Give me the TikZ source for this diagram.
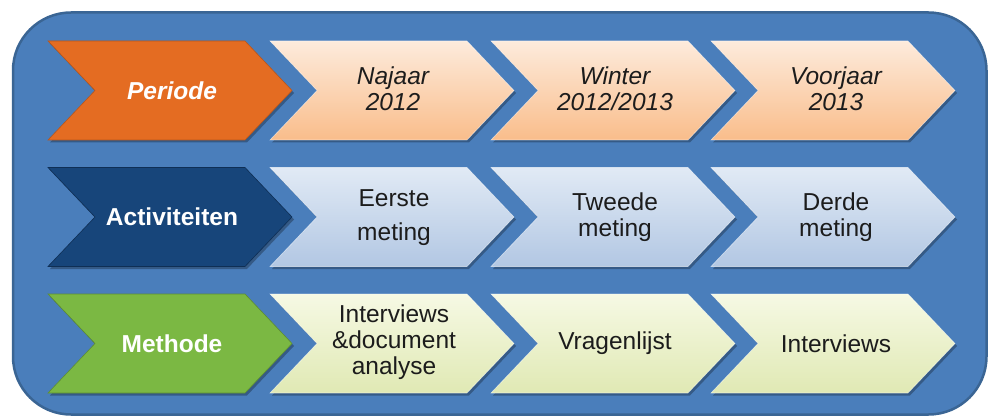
\documentclass[tikz,border=0pt]{standalone}
\usepackage{fontspec}
\setmainfont{Liberation Sans}
\definecolor{boxfill}{HTML}{4A7EBB}
\definecolor{boxborder}{HTML}{3A6594}
\definecolor{orangec}{HTML}{E46C22}
\definecolor{orangeline}{HTML}{B8561C}
\definecolor{darkbluec}{HTML}{17457A}
\definecolor{darkblueline}{HTML}{0F2F55}
\definecolor{greenc}{HTML}{7BB843}
\definecolor{greenline}{HTML}{5E8E33}
\definecolor{peachtop}{HTML}{FDEBDC}
\definecolor{peachbot}{HTML}{F9BD8B}
\definecolor{bluetop}{HTML}{E1EAF5}
\definecolor{bluebot}{HTML}{B2C7E3}
\definecolor{greentop}{HTML}{F6F9E4}
\definecolor{greenbot}{HTML}{E0E9B4}
\definecolor{txt}{HTML}{1C1C1C}
\newcommand\mkchev[3]{%
  \fill[black, opacity=0.28, shift={(2,2.5)}] (#1,#2) -- (#1+197,#2) -- (#1+244,#2+49.5) -- (#1+197,#2+99) -- (#1,#2+99) -- (#1+47,#2+49.5) -- cycle;
  \path[#3] (#1,#2) -- (#1+197,#2) -- (#1+244,#2+49.5) -- (#1+197,#2+99) -- (#1,#2+99) -- (#1+47,#2+49.5) -- cycle;
}
\begin{document}
\begin{tikzpicture}[x=1pt,y=-1pt,
  outerbox/.style={line width=2.5pt, draw=boxborder, fill=boxfill, rounded corners=58pt},
  headperiode/.style={fill=orangec, draw=orangeline, line width=0.6pt},
  headact/.style={fill=darkbluec, draw=darkblueline, line width=0.6pt},
  headmeth/.style={fill=greenc, draw=greenline, line width=0.6pt},
  peach/.style={top color=peachtop, bottom color=peachbot, draw=white, draw opacity=0.5, line width=0.6pt},
  lblue/.style={top color=bluetop, bottom color=bluebot, draw=white, draw opacity=0.5, line width=0.6pt},
  lgreen/.style={top color=greentop, bottom color=greenbot, draw=white, draw opacity=0.5, line width=0.6pt},
  headtxt/.style={text=white, font=\fontsize{24.5}{26}\selectfont\bfseries, align=center, inner sep=0pt},
  celltxt/.style={text=txt, font=\fontsize{24.5}{26}\selectfont, align=center, inner sep=0pt},
  pertxt/.style={celltxt, font=\fontsize{24.5}{26}\selectfont\itshape}
]
\useasboundingbox (0,0) rectangle (989,417);
\path[outerbox] (13,12.5) rectangle (986.5,414.5);
% row 1
\mkchev{48}{41}{headperiode}
\mkchev{270}{41}{peach}
\mkchev{491}{41}{peach}
\mkchev{711}{41}{peach}
% row 2
\mkchev{48}{167.5}{headact}
\mkchev{270}{167.5}{lblue}
\mkchev{491}{167.5}{lblue}
\mkchev{711}{167.5}{lblue}
% row 3
\mkchev{48}{294}{headmeth}
\mkchev{270}{294}{lgreen}
\mkchev{491}{294}{lgreen}
\mkchev{711}{294}{lgreen}
% texts
\node[headtxt, font=\fontsize{24.5}{26}\selectfont\bfseries\itshape] (h1) at (172,90.5) {Periode};
\node[pertxt] (p1) at (393,88.5) {Najaar\\2012};
\node[pertxt] (p2) at (615,88.5) {Winter\\2012/2013};
\node[pertxt] (p3) at (836,88.5) {Voorjaar\\2013};
\node[headtxt] (h2) at (172,217) {Activiteiten};
\node[celltxt] (a1) at (394,218) {Eerste\\[8pt]meting};
\node[celltxt] (a2) at (615,217) {Tweede\\meting};
\node[celltxt] (a3) at (836,217) {Derde\\meting};
\node[headtxt] (h3) at (172,343.5) {Methode};
\node[celltxt] (m1) at (394,342) {Interviews\\\&document\\analyse};
\node[celltxt] (m2) at (615,343.5) {Vragenlijst};
\node[celltxt] (m3) at (836,343.5) {Interviews};
\end{tikzpicture}
\end{document}
